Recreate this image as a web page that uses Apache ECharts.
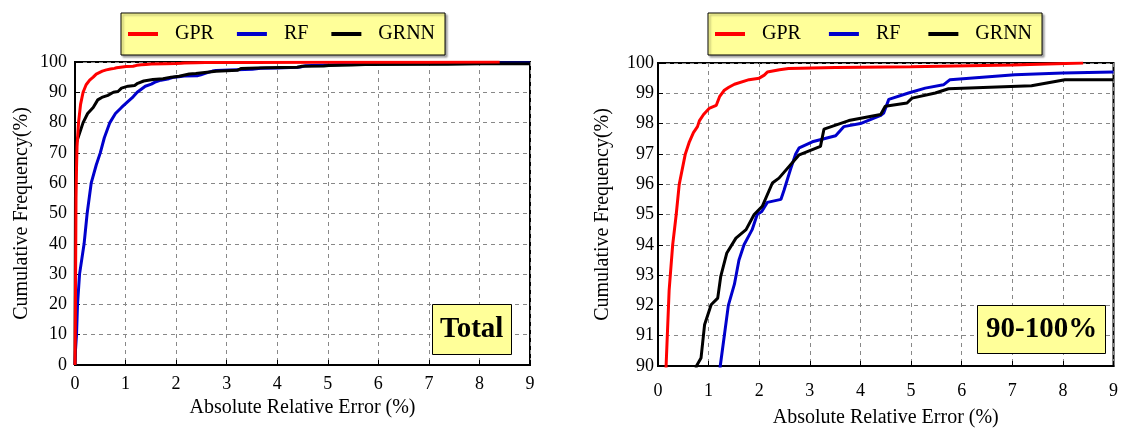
<!DOCTYPE html>
<html>
<head>
<meta charset="utf-8">
<title>Cumulative frequency of absolute relative error</title>
<script src="https://cdn.jsdelivr.net/npm/echarts@6/dist/echarts.min.js"></script>
<style>
  html, body { margin: 0; padding: 0; background: #fff; }
  #chart { width: 1121px; height: 434px; }
</style>
</head>
<body>
<div id="chart"></div>
<script>
// [absolute relative error (%), cumulative frequency (%)]
const gprData = [
  [0, 0], [0.005, 10], [0.01, 25], [0.015, 40], [0.02, 55], [0.03, 65], [0.04, 72],
  [0.07, 80], [0.11, 86], [0.16, 90], [0.22, 92.5], [0.29, 94], [0.36, 95], [0.42, 96],
  [0.54, 97], [0.62, 97.4], [0.7, 97.7], [0.78, 97.9], [0.82, 98.1], [0.9, 98.3],
  [1.01, 98.5], [1.15, 98.6], [1.22, 98.9], [1.31, 99.1], [1.4, 99.2], [1.51, 99.3],
  [1.8, 99.45], [2.0, 99.5], [2.1, 99.6], [2.16, 99.7], [2.4, 99.78], [2.58, 99.82],
  [3.5, 99.85], [5, 99.88], [7, 99.93], [8.4, 100]
]
const rfData = [
  [0, 0], [0.01, 5], [0.03, 10], [0.05, 20], [0.09, 30], [0.18, 40], [0.24, 50],
  [0.32, 60], [0.42, 66], [0.5, 70], [0.58, 75], [0.69, 80], [0.8, 83], [0.92, 85],
  [1.05, 87], [1.15, 88.5], [1.23, 90], [1.31, 91], [1.39, 92], [1.51, 92.7], [1.6, 93.5],
  [1.7, 94], [1.86, 94.5], [1.96, 95], [2.05, 95.1], [2.16, 95.4], [2.43, 95.5],
  [2.49, 95.8], [2.62, 96.5], [2.72, 97], [2.79, 97.2], [3.05, 97.4], [3.51, 97.6],
  [3.67, 97.9], [4.0, 98.0], [4.39, 98.26], [4.46, 98.35], [4.56, 98.8], [4.95, 99.01],
  [5.28, 99.17], [5.64, 99.28], [5.77, 99.45], [7.05, 99.61], [8.0, 99.67], [9, 99.7]
]
const grnnData = [
  [0, 0], [0.005, 30], [0.01, 60], [0.02, 73], [0.08, 76], [0.16, 80], [0.25, 83],
  [0.36, 85], [0.45, 87.5], [0.53, 88.3], [0.65, 89], [0.76, 90], [0.85, 90.26],
  [0.92, 91.36], [1.05, 92.02], [1.18, 92.24], [1.24, 92.96], [1.36, 93.73], [1.54, 94.22],
  [1.74, 94.5], [1.9, 95], [2.06, 95.27], [2.26, 96.04], [2.39, 96.2], [2.79, 96.97],
  [3.21, 97.25], [3.28, 97.82], [3.77, 98.1], [4.4, 98.3], [4.49, 98.57], [4.92, 98.68],
  [5.02, 98.84], [5.48, 99.01], [5.74, 99.15], [7.38, 99.25], [8.04, 99.45], [9, 99.45]
]
const seriesNames = ['GPR', 'RF', 'GRNN']
const seriesColors = ['#ff0000', '#0000cc', '#000000']
const panelLabels = ['Total', '90-100%']

const FONT = 'Liberation Serif'
const chart = echarts.init(document.getElementById('chart'))

function legendFor(left, gap) {
  return {
    left: left,
    top: 13,
    data: seriesNames,
    icon: 'rect',
    itemWidth: 30,
    itemHeight: 4,
    itemGap: gap,
    padding: [11, 10, 11, 7],
    backgroundColor: '#ffff99',
    borderColor: '#000',
    borderWidth: 1,
    shadowColor: 'rgba(0,0,0,0.35)',
    shadowBlur: 2,
    shadowOffsetX: 2,
    shadowOffsetY: 2,
    selectedMode: false,
    textStyle: { fontFamily: FONT, fontSize: 20, color: '#000', padding: [0, 0, 0, 12] }
  }
}

function xAxisFor(gridIndex, nameGap, labelMargin) {
  return {
    type: 'value',
    gridIndex: gridIndex,
    min: 0,
    max: 9,
    interval: 1,
    name: 'Absolute Relative Error (%)',
    nameLocation: 'middle',
    nameGap: nameGap,
    nameTextStyle: { fontFamily: FONT, fontSize: 20, color: '#000' },
    axisLine: { show: true, lineStyle: { color: '#000', width: 2 } },
    axisTick: { show: true, inside: true, length: 5, lineStyle: { color: '#000' } },
    axisLabel: { fontFamily: FONT, fontSize: 18, color: '#000', margin: labelMargin },
    splitLine: { show: true, lineStyle: { color: '#888', type: [4, 4], width: 1 } }
  }
}

function yAxisFor(gridIndex, min, interval, nameGap, labelMargin) {
  return {
    type: 'value',
    gridIndex: gridIndex,
    min: min,
    max: 100,
    interval: interval,
    name: 'Cumulative Frequency(%)',
    nameLocation: 'middle',
    nameGap: nameGap,
    nameTextStyle: { fontFamily: FONT, fontSize: 20, color: '#000' },
    axisLine: { show: true, lineStyle: { color: '#000', width: 2 } },
    axisTick: { show: true, inside: true, length: 5, lineStyle: { color: '#000' } },
    axisLabel: { fontFamily: FONT, fontSize: 18, color: '#000', margin: labelMargin },
    splitLine: { show: true, lineStyle: { color: '#888', type: [4, 4], width: 1 } }
  }
}

// GPR drawn last so it sits on top, like the original
const dataSets = [gprData, rfData, grnnData]
const drawOrder = [1, 2, 0]
const series = []
for (let g = 0; g < 2; g++) {
  drawOrder.forEach(i => {
    series.push({
      name: seriesNames[i],
      type: 'line',
      xAxisIndex: g,
      yAxisIndex: g,
      data: dataSets[i],
      symbol: 'none',
      clip: true,
      z: i === 0 ? 4 : 3,
      lineStyle: { color: seriesColors[i], width: 3 },
      itemStyle: { color: seriesColors[i] }
    })
  })
}

const labelBox = {
  fontFamily: FONT,
  fontSize: 29,
  fontWeight: 'bold',
  color: '#000'
}

const option = {
  animation: false,
  backgroundColor: '#fff',
  legend: [legendFor(121, 23), legendFor(708, 28)],
  title: [
    {
      text: panelLabels[0],
      left: 432,
      top: 304,
      padding: [11, 8],
      backgroundColor: '#ffff99',
      borderColor: '#000',
      borderWidth: 1,
      textStyle: labelBox
    },
    {
      text: panelLabels[1],
      left: 977,
      top: 305,
      padding: [10, 9],
      backgroundColor: '#ffff99',
      borderColor: '#000',
      borderWidth: 1,
      textStyle: labelBox
    }
  ],
  grid: [
    { left: 75, top: 62, width: 455, height: 303, show: true, borderColor: '#000', borderWidth: 2, backgroundColor: 'transparent' },
    { left: 658, top: 63, width: 457, height: 303, show: true, borderColor: '#000', borderWidth: 2, backgroundColor: 'transparent' }
  ],
  xAxis: [xAxisFor(0, 33, 10), xAxisFor(1, 42, 16)],
  yAxis: [yAxisFor(0, 0, 10, 43, 8), yAxisFor(1, 90, 1, 45, 4)],
  series: series
}

chart.setOption(option)
</script>
</body>
</html>
